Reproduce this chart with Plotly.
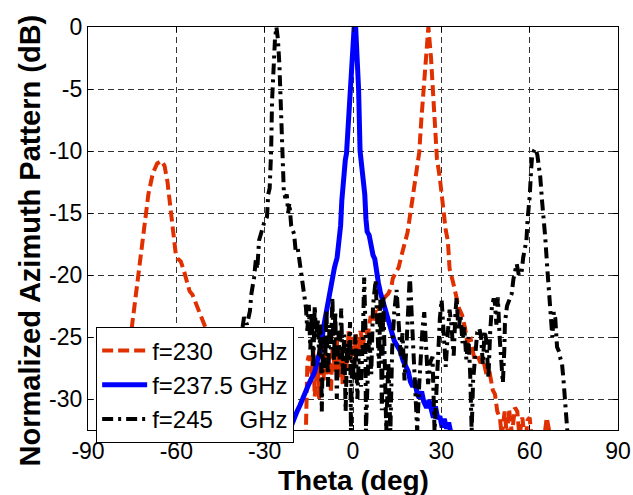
import plotly.graph_objects as go

# ---------------- data ----------------
theta_230 = [-90, -80, -78.5, -77, -75, -73, -71, -69.5, -68, -66.5, -65, -64, -63, -62, -61,
             -60.2, -59.5, -58.5, -57.5, -56.5, -55.5, -54.5, -53, -51.5, -50, -48.5, -47, -45,
             -43, -41, -39, -36, -20, -16.5, -16, -15.5, -15, -14, -13.5, -13, -12, -11.5, -11,
             -10, -9.5, -9, -8, -7.5, -7, -6, -5.5, -5, -4, -3.5, -3, -2, -1.5, -1, 0, 0.5, 1,
             2, 2.5, 3.5, 4, 5, 6, 7, 8, 9, 10, 11, 12, 13, 13.5, 14.5, 15.5, 16.5, 17.5, 18.5,
             19.5, 20.5, 21.5, 22.5, 23.2, 24, 24.8, 25.6, 26.5, 27.2, 27.8, 28.5, 29.5, 30.5,
             31.5, 32.2, 32.8, 34, 35, 36, 37, 38, 38.8, 40, 41, 42, 43.3, 44.2, 45.5, 46.5,
             47.5, 48.2, 49, 49.9, 50.5, 51.5, 52.3, 53, 54, 55, 55.8, 56.5, 57.5, 58.5, 59.3,
             60, 60.8, 62, 64, 65, 65.8, 66.8, 67.5, 90]
db_230 = [-40, -40, -33, -28, -24, -20, -16.5, -13.5, -11.8, -11, -10.8, -11.2, -12.5, -14.5, -17,
          -18.3, -18.7, -18.9, -19.6, -20.6, -21.3, -21.6, -22.5, -23.4, -24.2, -25.2, -26.5, -28,
          -30, -32, -34, -40, -40, -40, -32.6, -27, -26.5, -28, -26, -29.8, -27, -30, -26.3,
          -28.5, -25.5, -28, -26.5, -29.5, -26, -27.8, -25, -28.3, -26, -29, -25.8, -27.5, -24.5,
          -27, -25, -27.3, -24.8, -26.5, -24.5, -25.8, -24, -24.9, -23.3, -23.8, -22.5, -22.8,
          -22, -21.8, -21.5, -21, -20.3, -19.8, -19.4, -18.4, -17.5, -16.6, -15, -13.5, -11.8,
          -10.1, -7.5, -5, -2.5, 0, -2.5, -5, -8, -10.6, -12.2, -14.5, -16.4, -17.2, -19.5, -20.6,
          -21.5, -22.7, -23.2, -24.2, -25.4, -25.2, -26.5, -26.3, -27.1, -26.8, -28.2, -28,
          -29.3, -29.6, -31, -31.5, -33, -31, -33, -30.8, -32.8, -30.7, -31, -33, -31.5, -33.5,
          -31.7, -31.5, -33.5, -40, -40, -33, -31.5, -32.8, -40, -40]

theta_2375 = [-90, -36, -33.5, -32.5, -31.5, -30.5, -29.5, -28.5, -27.5, -26.5, -25.5, -24.5,
              -23.5, -22.5, -21.5, -20, -19, -18, -16.5, -15, -14, -13, -12, -11, -10, -9.5,
              -8.5, -8, -7, -6.3, -5.4, -5, -4.5, -4.2, -3.8, -3.3, -2.6, -2.2, -1.5, -0.9, -0.3,
              0.4, 0.9, 1.4, 1.9, 2.4, 3, 3.6, 4, 4.4, 4.8, 5.5, 6, 6.8, 7.4, 8, 8.6, 9.3, 10,
              11, 11.8, 12.5, 13.2, 14, 15, 16, 17, 18, 18.8, 19.5, 20.3, 21, 21.8, 22.5, 23.3,
              24, 25, 25.8, 26.5, 27.3, 28, 28.8, 29.5, 30.3, 31, 31.8, 32.5, 33.3, 34, 90]
db_2375 = [-40, -40, -33, -32.2, -32.6, -31.9, -32.5, -31.7, -32.4, -31.5, -32.2, -31.6, -32.3,
           -31.4, -32.5, -31.5, -31, -30.5, -29.5, -28.8, -28.3, -27.8, -26.8, -26, -24.2, -23.5,
           -22.3, -21.4, -20.5, -19.4, -18.6, -17.8, -16.5, -16, -14, -12, -10.7, -10.2, -7, -5,
           -2, 0, 0, -2.5, -5, -10, -11.2, -12, -13.5, -15.5, -16.5, -16.8, -17.5, -18.4, -18.7,
           -20, -20.6, -21.4, -22, -22.8, -23.5, -23.8, -24.6, -25.3, -25.7, -26.1, -26.9, -27.4,
           -27.8, -28.6, -29, -28.5, -29.6, -29.9, -29.4, -30.2, -30.7, -30.1, -30.9, -31.5,
           -30.6, -31.6, -31.4, -32.3, -31.6, -32.4, -31.9, -32.8, -40, -40]

theta_245 = [-90, -72, -70.5, -69.5, -68.5, -67, -58.5, -57.5, -56.5, -55.5, -50.5, -49.5, -48.5,
             -47, -43, -42, -41, -40.2, -39.5, -39, -38.5, -38, -37, -36, -35, -34.5, -33.6, -33,
             -32.5, -31.9, -31, -30.2, -29.2, -28.8, -28.3, -27.8, -27.5, -27, -26.5, -26, -25.5,
             -25, -24.6, -24.4, -24, -23.5, -23, -22.5, -22, -21.6, -21, -20, -19.5, -18.8, -18.2,
             -17.5, -17, -16.5, -16, -15.5, -15, -14.5, -14, -13.5, -13, -12.5, -12, -11.5, -11,
             -10.6, -10.2, -9.5, -9, -8.5, -8, -7.5, -7, -6.5, -6, -5.5, -5, -4.5, -4, -3.5, -3,
             -2.5, -2, -1.5, -1, -0.7, -0.3, 0.3, 0.8, 1.5, 2, 2.7, 3.3, 3.8, 4.2, 4.4, 5, 5.5,
             6.2, 6.8, 7.7, 8.2, 8.8, 9.3, 9.8, 10.3, 10.8, 11.3, 12, 12.7, 13.3, 14, 14.8, 15.5,
             16.2, 16.8, 17.5, 18.2, 18.8, 19.3, 19.9, 20.5, 21.1, 21.8, 22.5, 23, 23.6, 24.2,
             24.8, 25.5, 26.3, 27, 27.7, 28.3, 28.9, 29.5, 30.1, 30.8, 31.5, 32.1, 32.8, 33.4,
             34.2, 34.8, 35.2, 35.8, 36.5, 37.2, 37.8, 38.5, 39.2, 39.8, 40.3, 40.8, 41.5, 42.2,
             42.9, 43.5, 44.1, 44.7, 45.3, 46, 46.6, 47.2, 47.8, 48.2, 48.7, 49.2, 49.8, 50.3,
             50.9, 51.4, 51.6, 52.3, 53, 53.9, 54.5, 55.1, 55.6, 56.3, 57.2, 57.8, 58.4, 58.9,
             59.3, 60, 60.5, 60.8, 61.4, 61.9, 62.6, 63.1, 63.6, 64.2, 64.8, 65.3, 66, 66.5, 67,
             67.3, 67.7, 68.2, 68.7, 69.3, 70, 70.5, 71, 71.5, 72, 72.5, 72.8, 73.5, 90]
db_245 = [-40, -40, -32, -31.3, -32.2, -40, -40, -32.3, -31.8, -40, -40, -32, -32.6,
          -40, -40, -31.5, -32.6, -31.8, -40, -31, -27.5, -25, -23.4, -24, -22.9, -21.5, -20.2,
          -18.8, -19.5, -17.2, -16.5, -15.8, -15.3, -13.5, -13, -10, -6, -3, -1, 0, -1, -3, -6,
          -9, -11, -13.2, -13.8, -13.5, -15, -14.2, -16, -16.7, -18, -17.8, -18.8, -20, -20.7,
          -22, -22.6, -24.5, -22.4, -26, -23, -27.5, -22.5, -25, -23.5, -26.5, -24, -31, -25,
          -27.5, -22.8, -29, -24, -26, -21.8, -27, -23, -30, -24.5, -26.8, -22.7, -28, -24.8,
          -31, -25.5, -27, -23.8, -32.6, -26, -28.5, -24.8, -30, -26, -29, -25.5, -20.2, -24,
          -32.6, -27, -24.5, -28, -22.5, -20.4, -24, -27.5, -22, -30.9, -21.8, -26, -32.6, -27,
          -32.6, -26, -23, -21.2, -23.5, -26.5, -24.7, -28.5, -25.5, -22, -20, -23, -26.1, -29,
          -32.6, -28.8, -26, -24.3, -23, -25.5, -28.8, -27, -26.6, -32.6, -29, -26, -23.5, -22,
          -24.5, -27.4, -25, -22.8, -24, -26.5, -23, -21.8, -24.5, -23.2, -25.5, -24.2, -26.8,
          -25, -28, -32.6, -28.5, -26, -24.6, -24.3, -25, -27.2, -24.5, -25.3, -28.3, -24.5,
          -22.5, -21.9, -22.3, -24, -21.8, -25, -27, -28.7, -26, -23.9, -22.5, -22, -21.5,
          -20.3, -19.6, -19.1, -20, -19.9, -18.6, -17.9, -17.2, -15.5, -13.7, -11.5, -10.5, -10,
          -9.8, -10.3, -11, -12.1, -14, -15.5, -17, -19.5, -21, -22.3, -22.8, -25, -23, -23.5,
          -25.8, -26.2, -26.8, -27.2, -28.5, -29.9, -31.5, -32.6, -40, -40]

names = ["f=230\u00a0\u00a0\u00a0\u00a0GHz", "f=237.5 GHz", "f=245\u00a0\u00a0\u00a0\u00a0GHz"]
x_ticks = [-90, -60, -30, 0, 30, 60, 90]
y_ticks = [-30, -25, -20, -15, -10, -5, 0]
x_title = "Theta (deg)"
y_title = "Normalized Azimuth Pattern (dB)"

FONT = "Arial, Liberation Sans, Helvetica, sans-serif"

fig = go.Figure()
fig.add_trace(go.Scatter(x=theta_230, y=db_230, mode="lines", name=names[0],
                         line=dict(color="#e03000", width=4, dash="11px,5px")))
fig.add_trace(go.Scatter(x=theta_2375, y=db_2375, mode="lines", name=names[1],
                         line=dict(color="#0000ff", width=5)))
fig.add_trace(go.Scatter(x=theta_245, y=db_245, mode="lines", name=names[2],
                         line=dict(color="#000000", width=4, dash="11px,5px,3px,5px")))

axis_common = dict(showline=True, linecolor="black", linewidth=1.2, mirror="ticks",
                   ticks="inside", ticklen=5, tickcolor="black", tickwidth=1,
                   showgrid=True, gridcolor="#333333", gridwidth=1, griddash="6px,4px",
                   zeroline=False, automargin=False,
                   tickfont=dict(family=FONT, size=23, color="black"))

fig.update_layout(
    width=633, height=495, autosize=False,
    margin=dict(l=88, r=15, t=27, b=65),
    paper_bgcolor="white", plot_bgcolor="white",
    font=dict(family=FONT, color="black"),
    showlegend=True,
    legend=dict(x=0.015, y=0.255, xanchor="left", yanchor="top",
                bgcolor="white", bordercolor="black", borderwidth=1.2,
                font=dict(family=FONT, size=24, color="black"),
                itemwidth=45, tracegroupgap=0),
    xaxis=dict(range=[-90, 90], tickvals=x_ticks, ticktext=[str(v) for v in x_ticks],
               **axis_common),
    yaxis=dict(range=[-32.5, 0], tickvals=y_ticks, ticktext=[str(v) for v in y_ticks],
               **axis_common),
    annotations=[
        dict(text="<b>" + x_title + "</b>", xref="paper", yref="paper",
             x=0.5, y=-0.126, xanchor="center", yanchor="middle", showarrow=False,
             font=dict(family=FONT, size=28, color="black")),
        dict(text="<b>" + y_title + "</b>", xref="paper", yref="paper",
             x=-0.109, y=0.471, xanchor="center", yanchor="middle", showarrow=False,
             textangle=-90, font=dict(family=FONT, size=29, color="black")),
    ],
)

fig.write_html("out.html")
